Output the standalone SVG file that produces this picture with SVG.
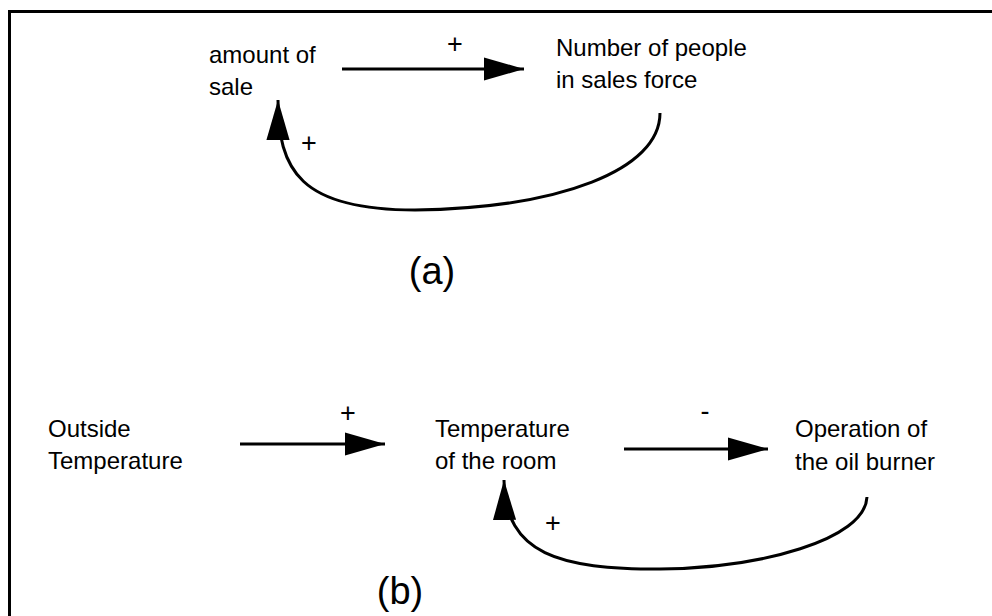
<svg xmlns="http://www.w3.org/2000/svg" width="992" height="616" viewBox="0 0 992 616">
<style>
text{font-family:"Liberation Sans",Arial,sans-serif;font-size:24px;fill:#000}
.lbl{font-size:38px}
.s{font-size:27px}
.c{fill:none;stroke:#000;stroke-width:3}
</style>
<defs>
<marker id="ah" markerUnits="userSpaceOnUse" markerWidth="40" markerHeight="24" viewBox="0 0 38 22" refX="38" refY="11" orient="auto">
<path d="M0,0 L38,11 L0,22 Z" fill="#000"/>
</marker>
</defs>
<rect width="992" height="616" fill="#fff"/>
<path d="M9.5,616 V11.5 H992" fill="none" stroke="#000" stroke-width="3"/>
<g id="a-amount"><text x="209" y="63">amount of</text><text x="209" y="95">sale</text></g>
<g id="a-people"><text x="556" y="56">Number of people</text><text x="556" y="88">in sales force</text></g>
<g id="b-outside"><text x="48" y="437">Outside</text><text x="48" y="469">Temperature</text></g>
<g id="b-room"><text x="435" y="437">Temperature</text><text x="435" y="469">of the room</text></g>
<g id="b-burner"><text x="795" y="437">Operation of</text><text x="795" y="470">the oil burner</text></g>
<g id="connectors">
<path class="c" d="M342,69 H524" marker-end="url(#ah)"/>
<path class="c" d="M660,113 C660,170 560,208 415,210 C300,210 278,170 278,100" marker-end="url(#ah)"/>
<path class="c" d="M240,444 H385" marker-end="url(#ah)"/>
<path class="c" d="M624,449 H768" marker-end="url(#ah)"/>
<path class="c" d="M867,497 C865,540 760,568 660,569 C560,569 505,555 504,480" marker-end="url(#ah)"/>
</g>
<g id="signs">
<text class="s" x="455" y="53" text-anchor="middle">+</text>
<text class="s" x="309" y="152" text-anchor="middle">+</text>
<text class="s" x="348" y="422" text-anchor="middle">+</text>
<text class="s" x="705" y="420" text-anchor="middle">-</text>
<text class="s" x="553" y="532" text-anchor="middle">+</text>
</g>
<text class="lbl" x="432" y="284" text-anchor="middle">(a)</text>
<text class="lbl" x="400" y="604" text-anchor="middle">(b)</text>
</svg>
